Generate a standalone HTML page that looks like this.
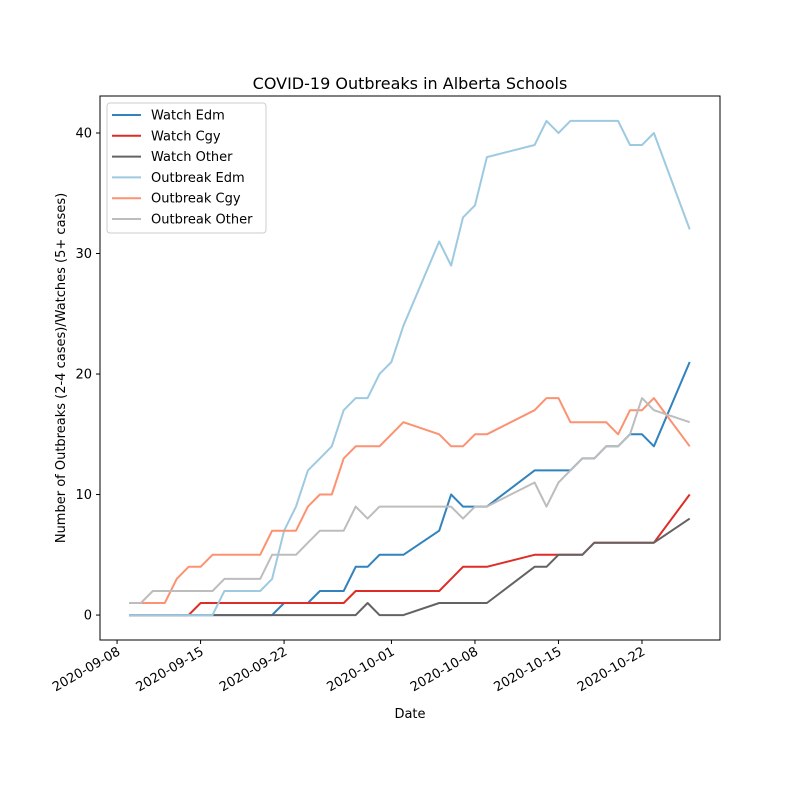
<!DOCTYPE html>
<html><head><meta charset="utf-8"><style>
html,body{margin:0;padding:0;background:#fff;}
svg{display:block;font-family:"DejaVu Sans","Liberation Sans",sans-serif;}
</style></head><body>
<svg id="chart" width="800" height="800" viewBox="0 0 800 800" xmlns="http://www.w3.org/2000/svg">
<rect width="800" height="800" fill="#fff"/>
<text x="410" y="89" font-size="16" text-anchor="middle">COVID-19 Outbreaks in Alberta Schools</text>
<g id="plot"></g>
<rect x="100" y="96" width="620" height="544" fill="none" stroke="#000" stroke-width="1"/>
<text x="410" y="718" font-size="13" text-anchor="middle">Date</text>
<text transform="translate(65,368) rotate(-90)" font-size="13" text-anchor="middle">Number of Outbreaks (2-4 cases)/Watches (5+ cases)</text>
<g id="legend"></g>
</svg>
<script>
const days = [0,1,2,3,4,5,6,7,8,9,10,11,12,13,14,15,16,17,18,19,20,21,22,23,26,27,28,29,30,34,35,36,37,38,39,40,41,42,43,44,47];
const seriesNames = ["Watch Edm","Watch Cgy","Watch Other","Outbreak Edm","Outbreak Cgy","Outbreak Other"];
const watchEdm = [0,0,0,0,0,0,0,0,0,0,0,0,0,1,1,1,2,2,2,4,4,5,5,5,7,10,9,9,9,12,12,12,12,13,13,14,14,15,15,14,21];
const watchCgy = [0,0,0,0,0,0,1,1,1,1,1,1,1,1,1,1,1,1,1,2,2,2,2,2,2,3,4,4,4,5,5,5,5,5,6,6,6,6,6,6,10];
const watchOther = [0,0,0,0,0,0,0,0,0,0,0,0,0,0,0,0,0,0,0,0,1,0,0,0,1,1,1,1,1,4,4,5,5,5,6,6,6,6,6,6,8];
const outbreakEdm = [0,0,0,0,0,0,0,0,2,2,2,2,3,7,9,12,13,14,17,18,18,20,21,24,31,29,33,34,38,39,41,40,41,41,41,41,41,39,39,40,32];
const outbreakCgy = [1,1,1,1,3,4,4,5,5,5,5,5,7,7,7,9,10,10,13,14,14,14,15,16,15,14,14,15,15,17,18,18,16,16,16,16,15,17,17,18,14];
const outbreakOther = [1,1,2,2,2,2,2,2,3,3,3,3,5,5,5,6,7,7,7,9,8,9,9,9,9,9,8,9,9,11,9,11,12,13,13,14,14,15,18,17,16];
const yTicks = [0,10,20,30,40];
const xTickDays = [-1,6,13,22,29,36,43];
const xTickLabels = ["2020-09-08","2020-09-15","2020-09-22","2020-10-01","2020-10-08","2020-10-15","2020-10-22"];

const colors = ["#3182bd","#de2d26","#636363","#9ecae1","#fc9272","#bdbdbd"];
const allSeries = [watchEdm,watchCgy,watchOther,outbreakEdm,outbreakCgy,outbreakOther];
const X0=100,X1=720,Y0=640,Y1=96;
const dMin=-2.43,dMax=49.54,vMin=-2.07,vMax=43.07;
function xs(d){return X0+(d-dMin)/(dMax-dMin)*(X1-X0);}
function ys(v){return Y0-(v-vMin)/(vMax-vMin)*(Y0-Y1);}
const NS="http://www.w3.org/2000/svg";
const svg=document.getElementById('chart');
const plot=document.getElementById('plot');
const leg=document.getElementById('legend');
function mk(tag,attrs,parent){const e=document.createElementNS(NS,tag);for(const k in attrs)e.setAttribute(k,attrs[k]);parent.appendChild(e);return e;}

yTicks.forEach(t=>{
  const y=ys(t);
  const tk=mk('line',{x1:X0-4,x2:X0,y1:y,y2:y,stroke:'#000'},svg);
  
  
  const tx=mk('text',{x:X0-8,y:y+4.5,'font-size':13,'text-anchor':'end'},svg);
  tx.textContent=t;
  
  
});
xTickDays.forEach((d,i)=>{
  const x=xs(d);
  const tk=mk('line',{x1:x,x2:x,y1:Y0,y2:Y0+4,stroke:'#000'},svg);
  
  
  const tx=mk('text',{transform:`translate(${x+4},${Y0+14}) rotate(-30)`,'font-size':13,'text-anchor':'end'},svg);
  tx.textContent=xTickLabels[i];
  
  
});
allSeries.forEach((s,i)=>{
  const pts=s.map((v,j)=>xs(days[j]).toFixed(1)+','+ys(v).toFixed(1)).join(' ');
  const pl=mk('polyline',{points:pts,fill:'none',stroke:colors[i],'stroke-width':2,'stroke-linejoin':'round'},plot);
  
  
});
const box=mk('rect',{x:107,y:103,width:159,height:130,rx:3,fill:'#fff','fill-opacity':0.8,stroke:'#ccc'},leg);


seriesNames.forEach((n,i)=>{
  const y=115+i*20.8;
  const ln=mk('line',{x1:112,x2:141,y1:y,y2:y,stroke:colors[i],'stroke-width':2},leg);
  
  
  const t=mk('text',{x:151,y:y+4.5,'font-size':13},leg);
  t.textContent=n;
  
  
});
</script>
</body></html>
